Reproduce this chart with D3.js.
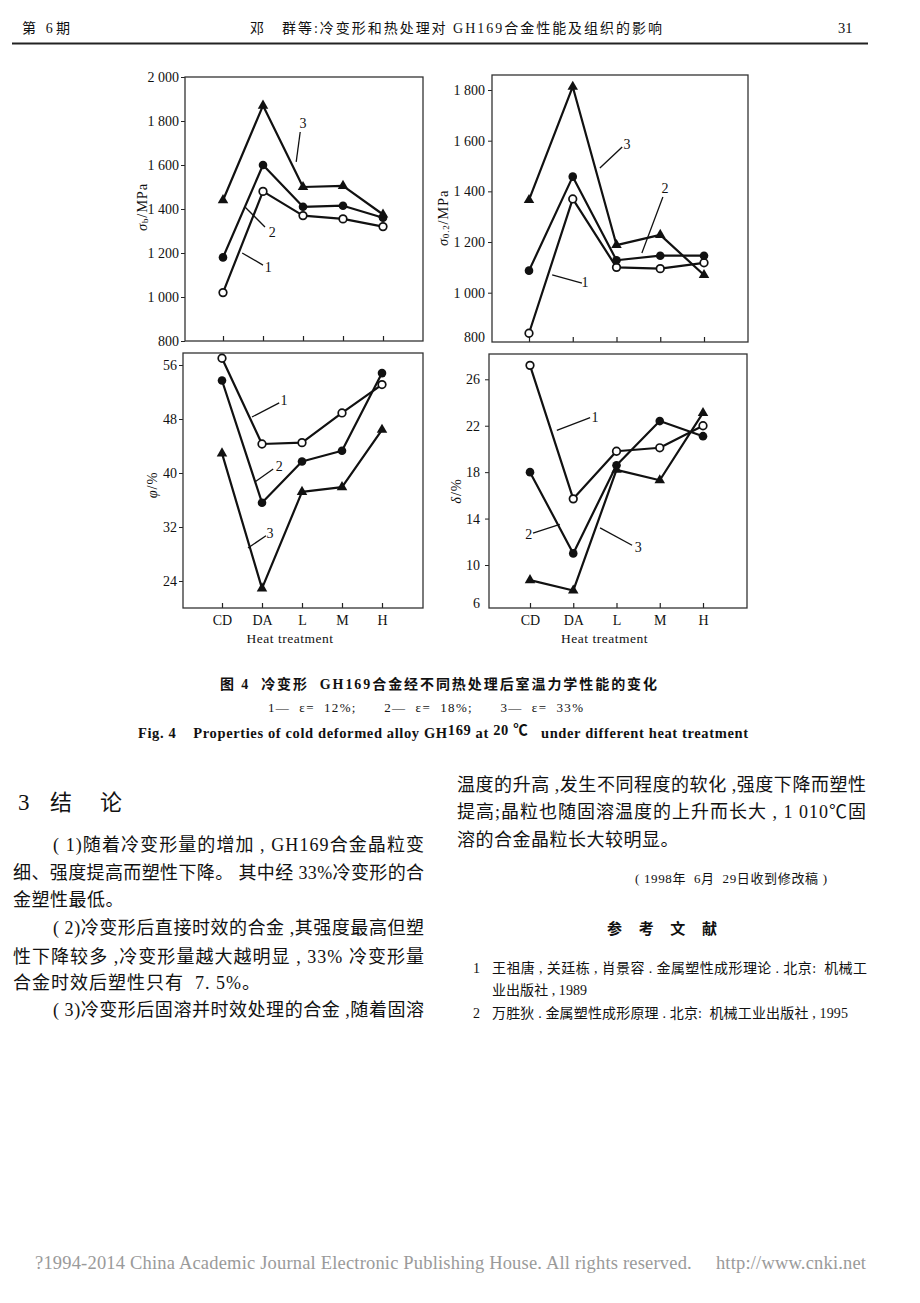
<!DOCTYPE html>
<html><head><meta charset="utf-8">
<script src="https://cdn.jsdelivr.net/npm/d3@7"></script>
<style>body{margin:0;background:#fff}svg{display:block}</style>
</head><body><svg id="c" width="920" height="1303"></svg>
<script>
// ---------------- data ----------------
const categories = ["CD","DA","L","M","H"];
const seriesLabels = ["1","2","3"]; // 1: ε=12%, 2: ε=18%, 3: ε=33%

// tensile strength σb / MPa
const sbE12 = [1020,1480,1370,1355,1320];
const sbE18 = [1180,1600,1410,1415,1360];
const sbE33 = [1440,1870,1500,1505,1375];
const sbTicks = [800,1000,1200,1400,1600,1800,2000];

// yield strength σ0.2 / MPa
const syE12 = [840,1370,1100,1095,1118];
const syE18 = [1087,1458,1128,1146,1146];
const syE33 = [1366,1813,1188,1228,1070];
const syTicks = [800,1000,1200,1400,1600,1800];

// reduction of area φ / %
const phiE12 = [57.0,44.3,44.5,48.9,53.1];
const phiE18 = [53.7,35.6,41.7,43.3,54.8];
const phiE33 = [42.9,22.9,37.2,37.9,46.4];
const phiTicks = [24,32,40,48,56];

// elongation δ / %
const delE12 = [27.2,15.7,19.8,20.1,22.0];
const delE18 = [18.0,11.0,18.6,22.4,21.1];
const delE33 = [8.7,7.8,18.2,17.3,23.1];
const delTicks = [6,10,14,18,22,26];

// curve-number annotations in data space: [category index, value]
const sbNotes = [
  {label:"3", from:[1.83,1614], to:[1.93,1750], at:[2.0,1790]},
  {label:"2", from:[0.55,1409], to:[1.05,1318], at:[1.23,1295]},
  {label:"1", from:[0.48,1200], to:[1.0,1145], at:[1.13,1136]}
];
const syNotes = [
  {label:"3", from:[1.62,1492], to:[2.13,1575], at:[2.24,1583]},
  {label:"2", from:[2.58,1157], to:[3.06,1378], at:[3.11,1413]},
  {label:"1", from:[0.53,1070], to:[1.21,1038], at:[1.28,1042]}
];
const phiNotes = [
  {label:"1", from:[0.75,48.3], to:[1.43,50.4], at:[1.55,50.8]},
  {label:"2", from:[0.83,38.7], to:[1.28,40.6], at:[1.43,40.9]},
  {label:"3", from:[0.65,28.9], to:[1.1,30.7], at:[1.2,31.1]}
];
const delNotes = [
  {label:"1", from:[0.62,21.6], to:[1.39,22.7], at:[1.5,22.7]},
  {label:"2", from:[0.07,12.75], to:[0.69,13.5], at:[-0.03,12.6]},
  {label:"3", from:[1.62,13.2], to:[2.36,11.7], at:[2.5,11.5]}
];

// ---------------- layout ----------------
const serif = "'Liberation Serif','Times New Roman','Noto Sans CJK SC',serif";
const svg = d3.select("#c");
svg.append("rect").attr("width",920).attr("height",1303).attr("fill","#fff");

const fmt = d3.formatLocale({decimal:".",thousands:" ",grouping:[3],currency:["",""]}).format(",");

const panels = [
  {frame:[185,77,423,341], xr:[223,383], yd:[800,2000], yr:[341,77], ticks:sbTicks,
   series:[sbE12,sbE18,sbE33], notes:sbNotes, title:["σ","b","/MPa"], tpos:[142,207], pad:2, xlab:false},
  {frame:[492,75,748,342], xr:[529,704], yd:[1000,1800], yr:[292.7,90], ticks:syTicks,
   series:[syE12,syE18,syE33], notes:syNotes, title:["σ","0.2","/MPa"], tpos:[443,218], pad:3, xlab:false},
  {frame:[183,353,423,608], xr:[222,382], yd:[24,56], yr:[581,365], ticks:phiTicks,
   series:[phiE12,phiE18,phiE33], notes:phiNotes, title:["φ","","/%"], tpos:[152,485], pad:2, xlab:true},
  {frame:[489,354,747,608], xr:[530,703], yd:[10,26], yr:[565,379.3], ticks:delTicks,
   series:[delE12,delE18,delE33], notes:delNotes, title:["δ","","/%"], tpos:[456,491], pad:5, xlab:true}
];

panels.forEach(p => {
  const [fx0,fy0,fx1,fy1] = p.frame;
  const g = svg.append("g");
  const x = d3.scalePoint().domain(categories).range(p.xr);
  const xi = d3.scaleLinear().domain([0,4]).range(p.xr);
  const y = d3.scaleLinear().domain(p.yd).range(p.yr);

  // y axis
  const ya = g.append("g").attr("transform",`translate(${fx0},0)`)
    .call(d3.axisLeft(y).tickValues(p.ticks).tickSize(4).tickPadding(p.pad).tickFormat(fmt));
  ya.select(".domain").remove();
  ya.selectAll("line").attr("stroke","#222").attr("stroke-width",1);
  ya.selectAll("text").attr("font-family",serif).attr("font-size",14).attr("fill","#111");
  ya.selectAll(".tick").each(function(d){
    const yy = y(d);
    if (yy > fy1 + 0.5) {
      d3.select(this).select("line").remove();
      d3.select(this).select("text").attr("y", fy1 - 5 - yy);
    }
  });

  // x axis (inward ticks)
  const xa = g.append("g").attr("transform",`translate(0,${fy1})`)
    .call(d3.axisBottom(x).tickSize(-5).tickPadding(7));
  xa.select(".domain").remove();
  xa.selectAll("line").attr("stroke","#222").attr("stroke-width",1.2);
  if (p.xlab) {
    xa.selectAll("text").attr("font-family",serif).attr("font-size",14).attr("fill","#111");
    g.append("text").attr("x",(p.xr[0]+p.xr[1])/2 - 12).attr("y",fy1+34.5)
      .attr("text-anchor","middle").attr("font-family",serif).attr("font-size",13.5)
      .attr("fill","#111").attr("letter-spacing",0.5).text("Heat treatment");
  } else {
    xa.selectAll("text").remove();
  }

  // frame
  g.append("rect").attr("x",fx0).attr("y",fy0).attr("width",fx1-fx0).attr("height",fy1-fy0)
    .attr("fill","none").attr("stroke","#333").attr("stroke-width",1.3);

  // axis title
  const t = g.append("text").attr("transform",`translate(${p.tpos[0]},${p.tpos[1]}) rotate(-90)`)
    .attr("text-anchor","middle").attr("dominant-baseline","central")
    .attr("font-family",serif).attr("font-size",14.5).attr("letter-spacing",0.8).attr("fill","#111");
  t.append("tspan").attr("font-style","italic").text(p.title[0]);
  if (p.title[1]) t.append("tspan").attr("font-size",9).attr("dy",3).text(p.title[1]);
  t.append("tspan").attr("dy", p.title[1] ? -3 : 0).text(p.title[2]);

  // curves
  const line = d3.line().x((d,i)=>x(categories[i])).y(d=>y(d));
  p.series.forEach(s => {
    g.append("path").datum(s).attr("d",line).attr("fill","none")
      .attr("stroke","#111").attr("stroke-width",2.2).attr("stroke-linejoin","round");
  });

  // annotation leaders
  p.notes.forEach(n => {
    g.append("line").attr("x1",xi(n.from[0])).attr("y1",y(n.from[1]))
      .attr("x2",xi(n.to[0])).attr("y2",y(n.to[1]))
      .attr("stroke","#111").attr("stroke-width",1.3);
    g.append("text").attr("x",xi(n.at[0])).attr("y",y(n.at[1]))
      .attr("text-anchor","middle").attr("dominant-baseline","central")
      .attr("font-family",serif).attr("font-size",14).attr("fill","#111").text(n.label);
  });

  // markers
  p.series.forEach((s,k) => {
    s.forEach((v,i) => {
      const cx = x(categories[i]), cy = y(v);
      if (k === 0) {
        g.append("circle").attr("cx",cx).attr("cy",cy).attr("r",3.8)
          .attr("fill","#fff").attr("stroke","#111").attr("stroke-width",1.7);
      } else if (k === 1) {
        g.append("circle").attr("cx",cx).attr("cy",cy).attr("r",4.3).attr("fill","#111");
      } else {
        g.append("path").attr("d",d3.symbol(d3.symbolTriangle,48)())
          .attr("transform",`translate(${cx},${cy})`).attr("fill","#111");
      }
    });
  });
});

// ---------------- page text ----------------
function txt(str, x, yc, o = {}) {
  const el = svg.append("text").attr("x",x).attr("y",yc + (o.size||18)*0.36)
    .attr("font-family",serif).attr("font-size",o.size||18)
    .attr("fill",o.fill||"#111").attr("font-weight",o.weight||"normal")
    .attr("text-anchor",o.anchor||"start").style("white-space","pre").text(str);
  if (o.to) el.attr("textLength",o.to - x).attr("lengthAdjust","spacing");
  if (o.ls) el.attr("letter-spacing",o.ls);
  return el;
}

// header
txt("第 6期", 22, 28, {size:14, to:70});
txt("邓　群等:冷变形和热处理对 GH169合金性能及组织的影响", 250, 28, {size:14, to:662});
txt("31", 838, 28, {size:14.5});
svg.append("line").attr("x1",12).attr("x2",868).attr("y1",43.5).attr("y2",43.5)
  .attr("stroke","#222").attr("stroke-width",2);

// caption
txt("图 4  冷变形  GH169合金经不同热处理后室温力学性能的变化", 220, 684, {size:14, weight:"bold", to:657});
txt("1—  ε=  12%;      2—  ε=  18%;      3—  ε=  33%", 268, 707, {size:13, to:583});
{
  const c = svg.append("text").attr("x",138).attr("y",738).attr("font-family",serif)
    .attr("font-size",14.5).attr("font-weight","bold").attr("fill","#111")
    .style("white-space","pre")
    .attr("textLength",748-138).attr("lengthAdjust","spacing");
  c.append("tspan").text("Fig. 4    Properties of cold deformed alloy GH");
  c.append("tspan").attr("dy",-3).text("169");
  c.append("tspan").attr("dy",3).text(" at ");
  c.append("tspan").attr("dy",-3).text("20 ℃");
  c.append("tspan").attr("dy",3).text("   under different heat treatment");
}

// section heading
txt("3", 18, 802, {size:23});
txt("结", 50, 802, {size:22});
txt("论", 100, 802, {size:22});

// left column
txt("( 1)随着冷变形量的增加 , GH169合金晶粒变", 53, 845, {to:424});
txt("细、强度提高而塑性下降。 其中经 33%冷变形的合", 13, 872.7, {to:424});
txt("金塑性最低。", 13, 900, {ls:0.5});
txt("( 2)冷变形后直接时效的合金 ,其强度最高但塑", 53, 928, {to:424});
txt("性下降较多 ,冷变形量越大越明显 , 33% 冷变形量", 13, 956.5, {to:424});
txt("合金时效后塑性只有  7. 5%。", 13, 983, {ls:1});
txt("( 3)冷变形后固溶并时效处理的合金 ,随着固溶", 53, 1010, {to:424});

// right column
txt("温度的升高 ,发生不同程度的软化 ,强度下降而塑性", 457, 785, {to:866});
txt("提高;晶粒也随固溶温度的上升而长大 , 1 010℃固", 457, 812, {to:866});
txt("溶的合金晶粒长大较明显。", 457, 840, {ls:0.5});
txt("( 1998年  6月  29日收到修改稿 )", 635, 878, {size:13, to:827});
txt("参　考　文　献", 607, 929, {size:15, weight:"bold", to:717});
txt("1", 473, 968, {size:14});
txt("王祖唐 , 关廷栋 , 肖景容 . 金属塑性成形理论 . 北京:  机械工", 492, 968, {size:14, to:867});
txt("业出版社 , 1989", 492, 990, {size:14, to:587});
txt("2", 473, 1013, {size:14});
txt("万胜狄 . 金属塑性成形原理 . 北京:  机械工业出版社 , 1995", 492, 1013, {size:14, to:848});

// footer
txt("?1994-2014 China Academic Journal Electronic Publishing House. All rights reserved.     http://www.cnki.net",
    35, 1262, {size:18.5, fill:"#9a9a9a", to:866});
</script>
</body></html>
